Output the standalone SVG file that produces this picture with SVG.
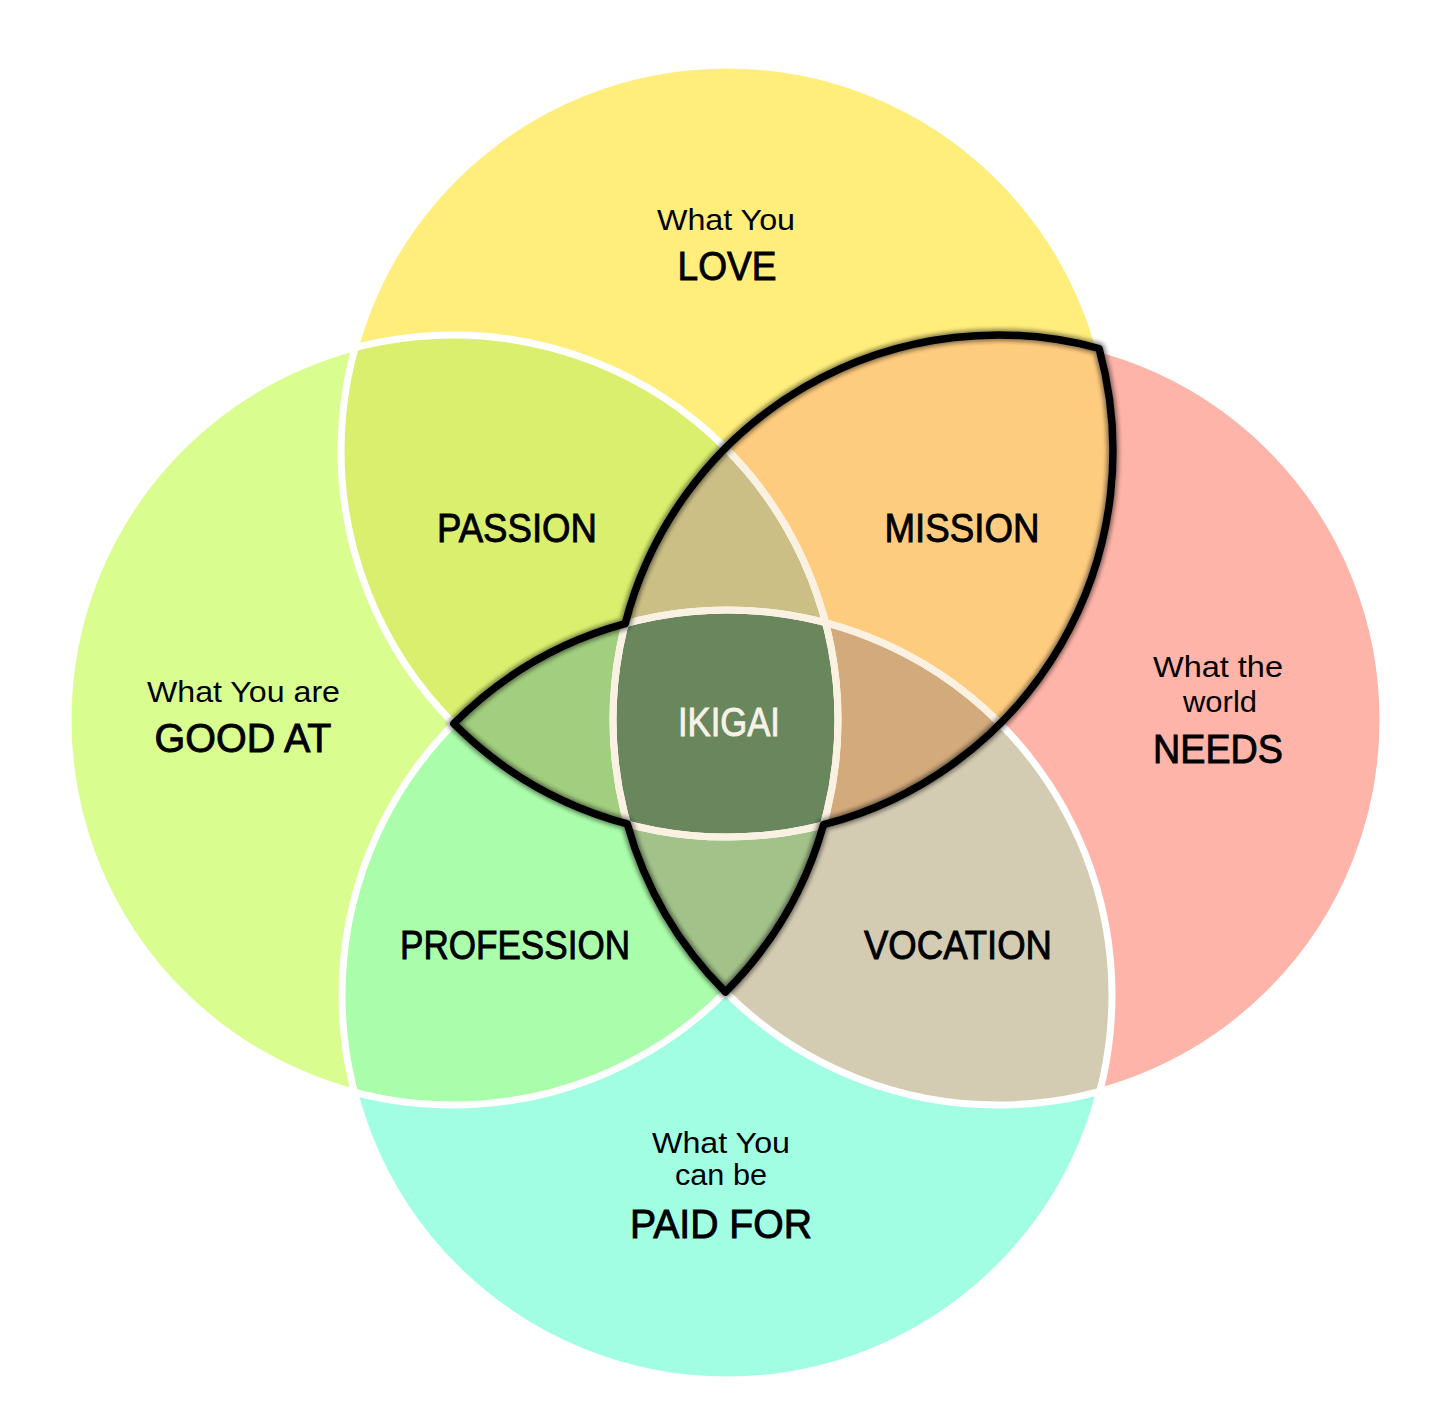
<svg xmlns="http://www.w3.org/2000/svg" width="1456" height="1416" viewBox="0 0 1456 1416">
<defs>
<clipPath id="cT"><circle cx="727" cy="451" r="386"/></clipPath>
<clipPath id="cL"><circle cx="453" cy="720" r="385"/></clipPath>
<clipPath id="cR"><circle cx="998" cy="720" r="385"/></clipPath>
<clipPath id="cB"><circle cx="727" cy="995" r="385"/></clipPath>
<clipPath id="cOut"><path d="M1099.1,348.5 A385,385 0 0 0 625.2,623.7 A385,385 0 0 0 453.8,723.7 A386,386 0 0 0 627.3,823.9 A385,385 0 0 0 725.5,992 A385,385 0 0 0 823.5,824.7 A386,386 0 0 0 1099.1,348.5 Z"/></clipPath>
<filter id="soft" x="-10%" y="-10%" width="120%" height="120%"><feGaussianBlur stdDeviation="2"/></filter>
</defs>
<style>
.lbl{font-family:"Liberation Sans",Arial,sans-serif;fill:#000;text-anchor:middle}
.big{font-size:41px;stroke:#000;stroke-width:0.9px}
.small{font-size:30px}
.ring{fill:none;stroke:#fff;stroke-width:7}
.ringc{fill:none;stroke:#FBF1E2;stroke-width:7}
.outline{fill:none;stroke:#000;stroke-linejoin:round}
</style>
<rect width="1456" height="1416" fill="#fff"/>

<g id="circle-love"><circle cx="727" cy="451" r="386" fill="#FFEE7C"/></g>
<g id="circle-good-at"><circle cx="453" cy="720" r="385" fill="#D9FD8E"/></g>
<g id="circle-needs"><circle cx="998" cy="720" r="385" fill="#FEB4A9"/></g>
<g id="circle-paid-for"><circle cx="727" cy="995" r="385" fill="#A2FEE3"/></g>

<g id="region-passion"><circle cx="727" cy="451" r="386" fill="#DBEF6E" clip-path="url(#cL)"/></g>
<g id="region-mission"><circle cx="727" cy="451" r="386" fill="#FECC7F" clip-path="url(#cR)"/></g>
<g id="region-profession"><circle cx="453" cy="720" r="385" fill="#AAFDAA" clip-path="url(#cB)"/></g>
<g id="region-vocation"><circle cx="998" cy="720" r="385" fill="#D4CBB3" clip-path="url(#cB)"/></g>

<g id="region-tlr" clip-path="url(#cL)"><circle cx="727" cy="451" r="386" fill="#CBBF86" clip-path="url(#cR)"/></g>
<g id="region-tlb" clip-path="url(#cL)"><circle cx="727" cy="451" r="386" fill="#A1CE7F" clip-path="url(#cB)"/></g>
<g id="region-trb" clip-path="url(#cR)"><circle cx="727" cy="451" r="386" fill="#D3AA7C" clip-path="url(#cB)"/></g>
<g id="region-lrb" clip-path="url(#cL)"><circle cx="727" cy="995" r="385" fill="#A2C28A" clip-path="url(#cR)"/></g>
<g id="region-ikigai" clip-path="url(#cL)"><g clip-path="url(#cR)"><circle cx="727" cy="451" r="386" fill="#69865D" clip-path="url(#cB)"/></g></g>

<g id="rings">
<circle class="ring" cx="727" cy="451" r="386"/>
<circle class="ring" cx="453" cy="720" r="385"/>
<circle class="ring" cx="998" cy="720" r="385"/>
<circle class="ring" cx="727" cy="995" r="385"/>
<g clip-path="url(#cOut)">
<circle class="ringc" cx="727" cy="451" r="386"/>
<circle class="ringc" cx="453" cy="720" r="385"/>
<circle class="ringc" cx="998" cy="720" r="385"/>
<circle class="ringc" cx="727" cy="995" r="385"/>
</g>
</g>

<g id="connectors">
<path class="outline" stroke-width="12" opacity="0.45" filter="url(#soft)" d="M1099.1,348.5 A385,385 0 0 0 625.2,623.7 A385,385 0 0 0 453.8,723.7 A386,386 0 0 0 627.3,823.9 A385,385 0 0 0 725.5,992 A385,385 0 0 0 823.5,824.7 A386,386 0 0 0 1099.1,348.5 Z"/>
<path class="outline" stroke-width="7.5" d="M1099.1,348.5 A385,385 0 0 0 625.2,623.7 A385,385 0 0 0 453.8,723.7 A386,386 0 0 0 627.3,823.9 A385,385 0 0 0 725.5,992 A385,385 0 0 0 823.5,824.7 A386,386 0 0 0 1099.1,348.5 Z"/>
</g>

<g id="labels">
<text class="lbl small" x="726" y="230" textLength="138" lengthAdjust="spacingAndGlyphs">What You</text>
<text class="lbl big" x="727" y="280" textLength="99" lengthAdjust="spacingAndGlyphs">LOVE</text>
<text class="lbl big" x="517" y="542" textLength="160" lengthAdjust="spacingAndGlyphs">PASSION</text>
<text class="lbl big" x="962" y="542" textLength="155" lengthAdjust="spacingAndGlyphs">MISSION</text>
<text class="lbl big" x="729" y="736" textLength="102" lengthAdjust="spacingAndGlyphs" style="fill:#F7F2E8;stroke:#F7F2E8">IKIGAI</text>
<text class="lbl big" x="515" y="959" textLength="230" lengthAdjust="spacingAndGlyphs">PROFESSION</text>
<text class="lbl big" x="958" y="959" textLength="188" lengthAdjust="spacingAndGlyphs">VOCATION</text>
<text class="lbl small" x="243.5" y="702" textLength="193" lengthAdjust="spacingAndGlyphs">What You are</text>
<text class="lbl big" x="243" y="752" textLength="177" lengthAdjust="spacingAndGlyphs">GOOD AT</text>
<text class="lbl small" x="1218" y="677" textLength="130" lengthAdjust="spacingAndGlyphs">What the</text>
<text class="lbl small" x="1220" y="712" textLength="74" lengthAdjust="spacingAndGlyphs">world</text>
<text class="lbl big" x="1218" y="763" textLength="130" lengthAdjust="spacingAndGlyphs">NEEDS</text>
<text class="lbl small" x="721" y="1153" textLength="138" lengthAdjust="spacingAndGlyphs">What You</text>
<text class="lbl small" x="721" y="1185" textLength="92" lengthAdjust="spacingAndGlyphs">can be</text>
<text class="lbl big" x="721" y="1238" textLength="182" lengthAdjust="spacingAndGlyphs">PAID FOR</text>
</g>
</svg>
